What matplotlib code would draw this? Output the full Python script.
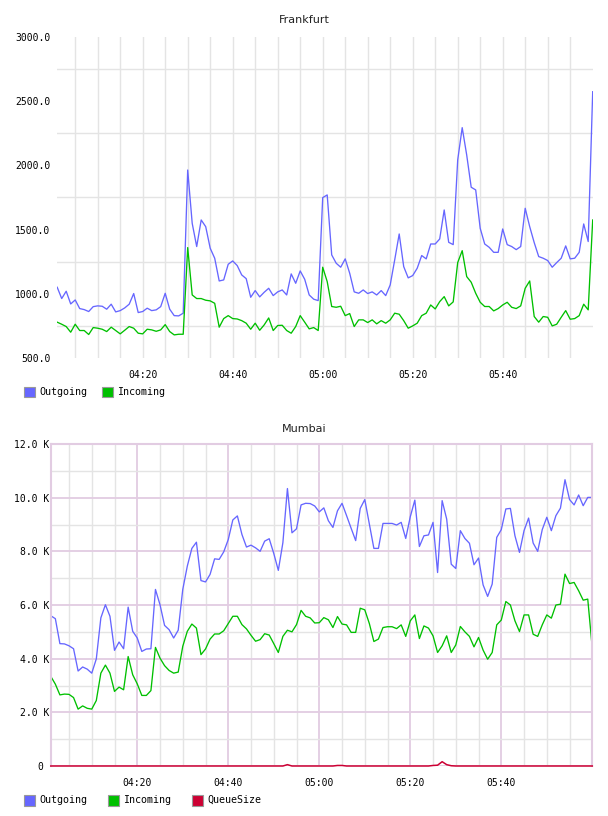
import pandas as pd
import matplotlib
matplotlib.use('Agg')
import matplotlib.pyplot as plt
from matplotlib.patches import Rectangle

# one sample per minute, 04:01 .. 06:00
times = pd.date_range('2014-01-01 04:01', periods=120, freq='min')
time_ticks = ['04:20', '04:40', '05:00', '05:20', '05:40']

fra_out = [1051, 963, 1020, 921, 952, 885, 877, 862, 900, 906,
           903, 880, 919, 859, 869, 890, 919, 1002, 854, 862,
           888, 869, 875, 900, 1004, 880, 830, 828, 849, 1964,
           1549, 1368, 1575, 1523, 1355, 1277, 1100, 1108, 1230, 1256,
           1220, 1147, 1118, 973, 1025, 976, 1012, 1043, 986, 1015,
           1030, 991, 1155, 1082, 1178, 1113, 991, 958, 947, 1749,
           1770, 1303, 1238, 1207, 1272, 1160, 1015, 1004, 1030, 1002,
           1015, 991, 1025, 986, 1069, 1264, 1466, 1212, 1124, 1142,
           1199, 1298, 1272, 1388, 1388, 1427, 1653, 1401, 1383, 2042,
           2294, 2081, 1830, 1809, 1510, 1388, 1362, 1323, 1323, 1505,
           1383, 1368, 1344, 1368, 1666, 1523, 1399, 1290, 1277, 1259,
           1207, 1243, 1277, 1373, 1272, 1277, 1323, 1544, 1407, 2574]
fra_in = [779, 763, 745, 701, 763, 714, 714, 683, 737, 732,
          724, 706, 740, 714, 688, 716, 745, 732, 693, 688,
          724, 719, 708, 719, 760, 706, 680, 685, 685, 1360,
          991, 963, 963, 950, 945, 926, 740, 807, 830, 807,
          804, 791, 771, 724, 771, 716, 758, 812, 714, 753,
          755, 714, 693, 745, 830, 779, 727, 737, 714, 1207,
          1095, 901, 895, 903, 830, 846, 745, 797, 797, 776,
          797, 766, 791, 771, 797, 849, 841, 791, 732, 750,
          771, 830, 849, 913, 882, 939, 978, 906, 937, 1243,
          1336, 1134, 1090, 1004, 934, 901, 901, 867, 885, 913,
          934, 895, 885, 906, 1043, 1100, 823, 779, 823, 817,
          750, 763, 817, 869, 802, 807, 830, 919, 875, 1575]

# Mumbai values in thousands
mum_out = [5.60, 5.49, 4.56, 4.55, 4.48, 4.37, 3.54, 3.69, 3.61, 3.46,
           3.99, 5.52, 6.01, 5.58, 4.31, 4.62, 4.37, 5.92, 5.02, 4.77,
           4.27, 4.36, 4.37, 6.58, 6.01, 5.24, 5.08, 4.77, 5.06, 6.58,
           7.45, 8.11, 8.34, 6.91, 6.86, 7.14, 7.72, 7.70, 7.98, 8.44,
           9.17, 9.32, 8.63, 8.16, 8.23, 8.13, 8.00, 8.38, 8.47, 7.92,
           7.29, 8.32, 10.34, 8.69, 8.84, 9.73, 9.79, 9.78, 9.69, 9.47,
           9.62, 9.14, 8.89, 9.51, 9.79, 9.33, 8.86, 8.40, 9.60, 9.93,
           9.02, 8.11, 8.11, 9.04, 9.04, 9.04, 8.98, 9.08, 8.48, 9.29,
           9.91, 8.18, 8.58, 8.61, 9.08, 7.21, 9.89, 9.20, 7.52, 7.36,
           8.77, 8.48, 8.30, 7.50, 7.75, 6.75, 6.32, 6.78, 8.52, 8.81,
           9.58, 9.60, 8.58, 7.96, 8.77, 9.24, 8.31, 8.00, 8.81, 9.27,
           8.77, 9.33, 9.61, 10.67, 9.93, 9.73, 10.10, 9.70, 10.01, 10.01]
mum_in = [3.34, 3.05, 2.65, 2.68, 2.67, 2.55, 2.12, 2.24, 2.15, 2.12,
          2.44, 3.46, 3.76, 3.46, 2.78, 2.94, 2.84, 4.08, 3.40, 3.06,
          2.63, 2.63, 2.81, 4.42, 4.02, 3.74, 3.56, 3.46, 3.50, 4.46,
          5.02, 5.29, 5.14, 4.15, 4.36, 4.73, 4.92, 4.92, 5.04, 5.31,
          5.58, 5.58, 5.27, 5.11, 4.87, 4.65, 4.71, 4.93, 4.88, 4.56,
          4.23, 4.83, 5.06, 5.00, 5.27, 5.80, 5.58, 5.52, 5.33, 5.34,
          5.53, 5.45, 5.16, 5.57, 5.29, 5.26, 4.98, 4.98, 5.88, 5.82,
          5.31, 4.64, 4.73, 5.16, 5.19, 5.19, 5.12, 5.26, 4.83, 5.41,
          5.63, 4.75, 5.22, 5.14, 4.85, 4.23, 4.48, 4.85, 4.23, 4.51,
          5.20, 5.00, 4.83, 4.44, 4.79, 4.32, 3.98, 4.23, 5.26, 5.44,
          6.13, 6.00, 5.41, 5.01, 5.63, 5.63, 4.91, 4.83, 5.26, 5.63,
          5.51, 6.00, 6.03, 7.15, 6.80, 6.84, 6.53, 6.18, 6.22, 4.38]
mum_queue = [0, 0, 0, 0, 0, 0, 0, 0, 0, 0, 0, 0, 0, 0, 0, 0, 0, 0, 0, 0,
             0, 0, 0, 0, 0, 0, 0, 0, 0, 0, 0, 0, 0, 0, 0, 0, 0, 0, 0, 0,
             0, 0, 0, 0, 0, 0, 0, 0, 0, 0, 0, 0, 0.05, 0, 0, 0, 0, 0, 0, 0,
             0, 0, 0, 0.02, 0.02, 0, 0, 0, 0, 0, 0, 0, 0, 0, 0, 0, 0, 0, 0, 0,
             0, 0, 0, 0, 0.02, 0.03, 0.16, 0.05, 0.01, 0, 0, 0, 0, 0, 0, 0, 0, 0, 0, 0,
             0, 0, 0, 0, 0, 0, 0, 0, 0, 0, 0, 0, 0, 0, 0, 0, 0, 0, 0, 0]

fra_yticks = [500, 1000, 1500, 2000, 2500, 3000]
fra_ylabels = ['500.0', '1000.0', '1500.0', '2000.0', '2500.0', '3000.0']
fra_ygrid = [750, 1250, 1750, 2250, 2750]
mum_yticks = [0, 2, 4, 6, 8, 10, 12]
mum_ylabels = ['0 ', '2.0 K', '4.0 K', '6.0 K', '8.0 K', '10.0 K', '12.0 K']
mum_ygrid = [1, 3, 5, 7, 9, 11]

fra_names = ['Outgoing', 'Incoming']
mum_names = ['Outgoing', 'Incoming', 'QueueSize']
c_out = '#6666ff'
c_in = '#00c000'
c_queue = '#cc0033'
grid_gray = '#e4e4e4'
grid_purple = '#e2cce2'
mono = 'DejaVu Sans Mono'

W, H = 608, 816
fig = plt.figure(figsize=(W / 100, H / 100), dpi=100)


def px_axes(left, top, right, bottom):
    return fig.add_axes([left / W, 1 - bottom / H, (right - left) / W, (bottom - top) / H])


def legend(y, entries):
    for x, name, color in entries:
        fig.add_artist(Rectangle((x / W, 1 - (y + 5.5) / H), 11 / W, 11 / H,
                                 facecolor=color, edgecolor='#999999', lw=0.8,
                                 transform=fig.transFigure))
        fig.text((x + 15) / W, 1 - y / H, name, fontsize=7.2, family=mono,
                 va='center', ha='left')


tick_pos = [pd.Timestamp('2014-01-01 ' + t) for t in time_ticks]
five_min = pd.date_range('2014-01-01 04:05', '2014-01-01 05:55', freq='5min')
minor_pos = [t for t in five_min if t.minute % 20 != 0]
start = pd.Timestamp('2014-01-01 04:01')
end = pd.Timestamp('2014-01-01 06:00')

# ---- Frankfurt
ax = px_axes(57.2, 37, 592.7, 358)
ax.plot(times, fra_out, color=c_out, lw=0.95)
ax.plot(times, fra_in, color=c_in, lw=0.95)
ax.set_xlim(start, end)
ax.set_ylim(500, 3000)
ax.set_yticks(fra_yticks)
ax.set_yticklabels(fra_ylabels)
ax.set_yticks(fra_ygrid, minor=True)
ax.set_xticks(tick_pos)
ax.set_xticklabels(time_ticks)
ax.set_xticks(minor_pos, minor=True)
ax.grid(which='minor', color=grid_gray, lw=1)
ax.grid(which='major', axis='x', color=grid_gray, lw=1)
ax.set_axisbelow(True)
for s in ax.spines.values():
    s.set_visible(False)
ax.tick_params(which='both', length=0)
ax.tick_params(axis='x', pad=8.5)
ax.tick_params(axis='y', pad=5)
for lab in ax.get_xticklabels() + ax.get_yticklabels():
    lab.set_fontfamily(mono)
    lab.set_fontsize(7)
fig.text(0.5, 1 - 20 / H, 'Frankfurt', ha='center', va='center', fontsize=8, color='#222222')
legend(392, [(24, fra_names[0], c_out), (102, fra_names[1], c_in)])

# ---- Mumbai
ax = px_axes(50.8, 444, 592.3, 766)
ax.plot(times, mum_out, color=c_out, lw=0.95)
ax.plot(times, mum_in, color=c_in, lw=0.95)
ax.plot(times, mum_queue, color=c_queue, lw=1.1, clip_on=False, zorder=5)
ax.set_xlim(start, end)
ax.set_ylim(0, 12)
ax.set_yticks(mum_yticks)
ax.set_yticklabels(mum_ylabels)
ax.set_yticks(mum_ygrid, minor=True)
ax.set_xticks(tick_pos)
ax.set_xticklabels(time_ticks)
ax.set_xticks(minor_pos, minor=True)
ax.grid(which='minor', color=grid_gray, lw=1)
ax.grid(which='major', color=grid_purple, lw=1.3)
ax.set_axisbelow(True)
for side in ['top', 'left', 'right']:
    ax.spines[side].set_color(grid_purple)
    ax.spines[side].set_linewidth(1.5)
ax.spines['bottom'].set_visible(False)
ax.tick_params(which='both', length=0)
ax.tick_params(axis='x', pad=8.5)
ax.tick_params(axis='y', pad=1)
for lab in ax.get_xticklabels() + ax.get_yticklabels():
    lab.set_fontfamily(mono)
    lab.set_fontsize(7)
fig.text(0.5, 1 - 429 / H, 'Mumbai', ha='center', va='center', fontsize=8, color='#222222')
legend(800, [(24, mum_names[0], c_out), (108, mum_names[1], c_in), (192, mum_names[2], c_queue)])

fig.savefig('out.png', dpi=100)
